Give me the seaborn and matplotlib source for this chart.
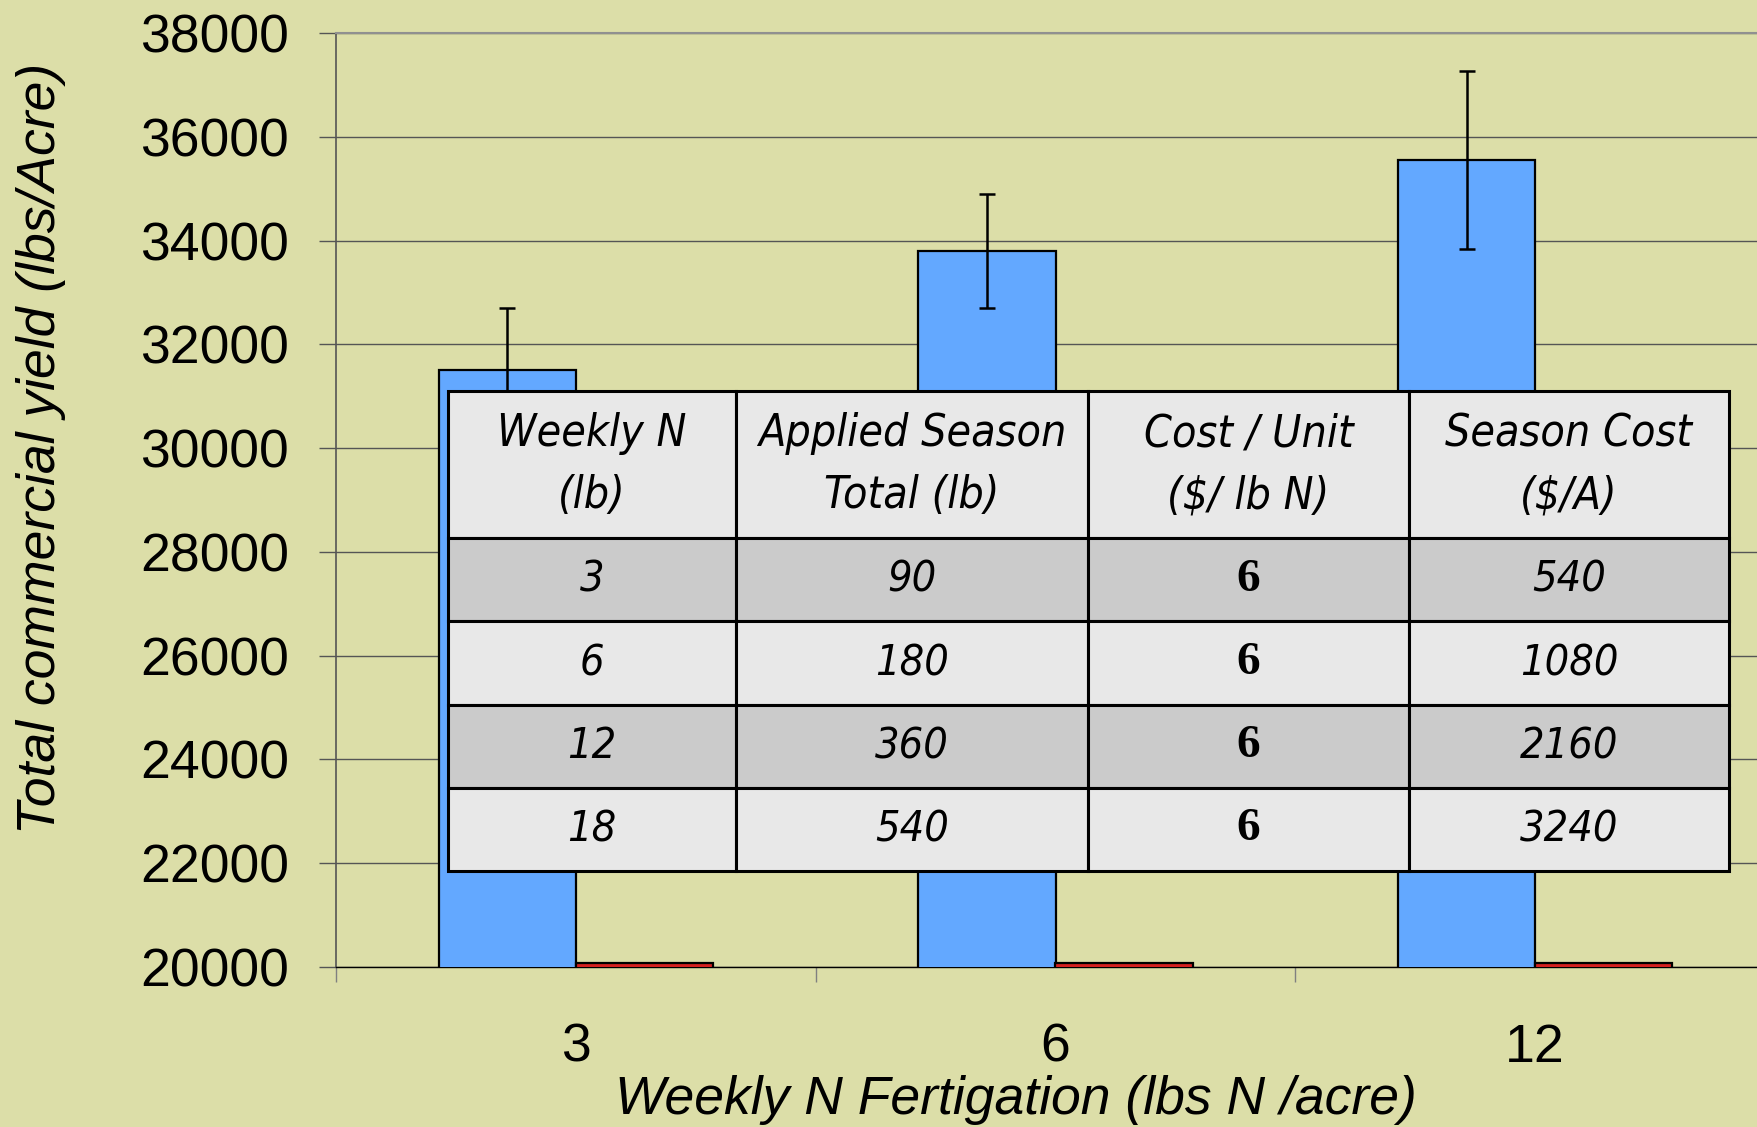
import pandas as pd
import matplotlib
matplotlib.use("Agg")
import matplotlib.pyplot as plt
import seaborn as sns

# chart data
rates = ["3", "6", "12"]
series = ["yield", "other"]
yield_mean = [31500, 33800, 35550]
yield_err = [1200, 1100, 1720]
other_mean = [20070, 20070, 20070]
y_ticks = list(range(20000, 38001, 2000))

# table data
table_header = ["Weekly N\n(lb)", "Applied Season\nTotal (lb)", r"Cost / Unit" + "\n" + r"(\$/ lb N)", "Season Cost\n" + r"(\$/A)"]
weekly_n = ["3", "6", "12", "18"]
season_total = ["90", "180", "360", "540"]
cost_unit = ["6", "6", "6", "6"]
season_cost = ["540", "1080", "2160", "3240"]

bg = "#dcdea8"
W, H = 1757, 1127

sns.set_style("white")
plt.rcParams["font.family"] = ["Liberation Sans", "DejaVu Sans"]
plt.rcParams["text.color"] = "black"
plt.rcParams["axes.labelcolor"] = "black"
plt.rcParams["xtick.labelcolor"] = "black"
plt.rcParams["ytick.labelcolor"] = "black"

fig = plt.figure(figsize=(W / 100, H / 100), dpi=100, facecolor=bg)
ax = fig.add_axes([336 / W, 160 / H, 1439 / W, 934 / H])
ax.set_facecolor(bg)

df = pd.DataFrame({
    "rate": rates * 2,
    "series": ["yield"] * len(rates) + ["other"] * len(rates),
    "value": yield_mean + other_mean,
})
sns.barplot(data=df, x="rate", y="value", hue="series", order=rates, hue_order=series,
            palette={"yield": "#63a8ff", "other": "#d42020"}, saturation=1, width=0.5714, gap=0,
            edgecolor="black", linewidth=1.6, errorbar=None, legend=False, ax=ax, zorder=3)

xs = [p.get_x() + p.get_width() / 2 for p in ax.patches[:len(rates)]]
ax.errorbar(xs, yield_mean, yerr=yield_err, fmt="none", ecolor="black",
            elinewidth=1.8, capsize=5.5, capthick=1.8, zorder=4)

ax.set_ylim(20000, 38000)
ax.set_xlim(-0.5, 2.5)
ax.set_yticks(y_ticks)
ax.set_yticklabels([str(t) for t in y_ticks])
ax.yaxis.grid(True, color="#555555", linewidth=1)
ax.set_axisbelow(True)

ax.spines["right"].set_visible(False)
ax.spines["top"].set_color("#909090")
ax.spines["top"].set_linewidth(1.5)
ax.spines["left"].set_color("#555555")
ax.spines["left"].set_linewidth(1.2)
ax.spines["bottom"].set_color("black")
ax.spines["bottom"].set_linewidth(1)

ax.tick_params(axis="y", direction="out", length=12, width=1, color="#555555",
               labelsize=38.5, pad=22, left=True)
ax.set_xticks([0, 1, 2])
ax.set_xticks([-0.5, 0.5, 1.5], minor=True)
ax.tick_params(axis="x", which="major", length=0, labelsize=38.5, pad=40)
ax.tick_params(axis="x", which="minor", direction="out", length=11, width=1, color="#808080", bottom=True)

ax.set_xlabel("Weekly N Fertigation (lbs N /acre)", fontsize=38.5, style="italic", va="center")
ax.xaxis.set_label_coords((1016 - 336) / 1439, -(1100 - 967) / 934)
ax.set_ylabel("Total commercial yield (lbs/Acre)", fontsize=38.5, style="italic", va="center")
ax.yaxis.set_label_coords((41 - 336) / 1439, (967 - 448) / 934)

# overlaid cost table
tax = fig.add_axes([448 / W, 256 / H, 1281 / W, 480 / H])
tax.axis("off")
rows = [list(r) for r in zip(weekly_n, season_total, cost_unit, season_cost)]
col_w = [288, 352, 321, 320]
tbl = tax.table(cellText=[table_header] + rows, cellLoc="center", bbox=[0, 0, 1, 1], colWidths=col_w)
tbl.auto_set_font_size(False)
for (r, c), cell in tbl.get_celld().items():
    cell.set_height(147 if r == 0 else 83)
    cell.set_linewidth(2.2)
    cell.set_edgecolor("black")
    cell.set_facecolor("#cbcbcb" if r in (1, 3) else "#e8e8e8")
    t = cell.get_text()
    t.set_color("black")
    if r > 0 and c == 2:
        t.set_fontfamily(["Liberation Serif", "DejaVu Serif"])
        t.set_fontweight("bold")
        t.set_fontsize(34)
    else:
        t.set_fontfamily(["DejaVu Sans"])
        t.set_fontstretch("condensed")
        t.set_style("italic")
        t.set_fontsize(32 if r == 0 else 31)
        t.set_linespacing(1.55)

fig.savefig("out.png", dpi=100, facecolor=bg)
